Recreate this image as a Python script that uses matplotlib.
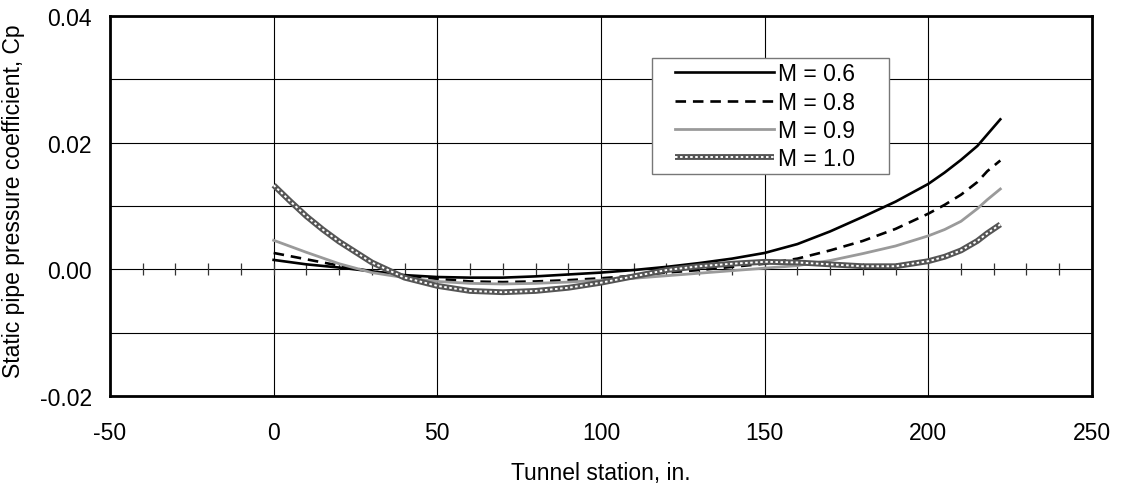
import matplotlib
matplotlib.use("Agg")
import matplotlib.pyplot as plt
import numpy as np
from matplotlib.patches import Rectangle
from matplotlib.legend_handler import HandlerTuple

plt.rcParams['font.family'] = ['Liberation Sans', 'DejaVu Sans']
plt.rcParams['axes.unicode_minus'] = False

# Data
x_main = [0, 10, 20, 30, 40, 50, 60, 70, 80, 90, 100, 110, 120, 130, 140,
          150, 160, 170, 180, 190, 200, 205, 210, 215, 218, 222]
cp_m06 = [0.0015, 0.0008, 0.0003, -0.0003, -0.0009, -0.0012, -0.0013, -0.0013,
          -0.0011, -0.0008, -0.0005, -0.0001, 0.0004, 0.0010, 0.0017, 0.0026,
          0.0040, 0.0060, 0.0083, 0.0107, 0.0135, 0.0153, 0.0173, 0.0195,
          0.0213, 0.0237]
cp_m08 = [0.0026, 0.0016, 0.0006, -0.0003, -0.0010, -0.0015, -0.0019, -0.0020,
          -0.0019, -0.0017, -0.0014, -0.0010, -0.0005, -0.0001, 0.0004, 0.0009,
          0.0017, 0.0030, 0.0045, 0.0064, 0.0088, 0.0102, 0.0118, 0.0138,
          0.0155, 0.0172]
cp_m09 = [0.0046, 0.0027, 0.0009, -0.0005, -0.0013, -0.0019, -0.0022, -0.0023,
          -0.0022, -0.0020, -0.0017, -0.0014, -0.0010, -0.0006, -0.0002, 0.0002,
          0.0006, 0.0014, 0.0025, 0.0037, 0.0053, 0.0063, 0.0076, 0.0096,
          0.0110, 0.0127]
x_m10 = [0, 5, 10, 15, 20, 30, 40, 50, 60, 70, 80, 90, 100, 110, 120, 130, 140,
         150, 160, 170, 180, 190, 200, 205, 210, 215, 218, 222]
cp_m10 = [0.0133, 0.0108, 0.0084, 0.0063, 0.0044, 0.0011, -0.0013, -0.0026,
          -0.0034, -0.0036, -0.0034, -0.0029, -0.0021, -0.0011, -0.0001, 0.0005,
          0.0009, 0.0012, 0.0011, 0.0008, 0.0005, 0.0005, 0.0013, 0.0020, 0.0030,
          0.0045, 0.0057, 0.0071]
labels = ["M = 0.6", "M = 0.8", "M = 0.9", "M = 1.0"]
x_ticks = [-50, 0, 50, 100, 150, 200, 250]
y_ticks = [-0.02, 0.00, 0.02, 0.04]
y_tick_labels = ["-0.02", "0.00", "0.02", "0.04"]
minor_x = list(range(-40, 250, 10))

fig = plt.figure(figsize=(11.21, 4.89), dpi=100)
ax = fig.add_axes([0.0981, 0.188, 0.876, 0.777])
ax.set_xlim(-50, 250)
ax.set_ylim(-0.02, 0.04)

# grid
for gx in x_ticks[1:-1]:
    ax.axvline(gx, color='black', lw=0.8, zorder=1)
for gy in np.arange(-0.01, 0.04, 0.01):
    ax.axhline(gy, color='black', lw=0.8, zorder=1)
ax.plot(minor_x, np.zeros(len(minor_x)), ls='none', marker='|', ms=9,
        mew=0.9, color='#333333', zorder=1)

l1, = ax.plot(x_main, cp_m06, color='black', lw=1.9, zorder=3)
l2, = ax.plot(x_main, cp_m08, color='black', lw=1.9, ls=(0, (4, 2.6)), zorder=3)
l3, = ax.plot(x_main, cp_m09, color='#9a9a9a', lw=2.0, zorder=3)
l4a, = ax.plot(x_m10, cp_m10, color='#555555', lw=4.2, zorder=4,
               solid_capstyle='butt')
l4b, = ax.plot(x_m10, cp_m10, color='white', lw=1.4, ls=(0, (1.3, 1.3)), zorder=5)

ax.set_xticks(x_ticks)
ax.set_yticks(y_ticks)
ax.set_yticklabels(y_tick_labels)
ax.tick_params(axis='both', length=0, labelsize=16.5)
ax.tick_params(axis='x', pad=18)
ax.tick_params(axis='y', pad=13)
for s in ax.spines.values():
    s.set_linewidth(2.0)
    s.set_zorder(6)

ax.set_xlabel("Tunnel station, in.", fontsize=16.5)
ax.xaxis.set_label_coords(0.5, -0.172)
ax.set_ylabel("Static pipe pressure coefficient, Cp", fontsize=16.5)
ax.yaxis.set_label_coords(-0.087, 0.515)

# legend frame
rect = Rectangle((0.552, 0.584), 0.241, 0.307, transform=ax.transAxes,
                 facecolor='white', edgecolor='#777777', lw=1.0, zorder=7)
ax.add_patch(rect)
leg = ax.legend([l1, l2, l3, (l4a, l4b)], labels, loc='center left',
                bbox_to_anchor=(0.5754, 0.737), frameon=False, fontsize=16.5,
                borderpad=0, borderaxespad=0, handlelength=4.3,
                handletextpad=0.2, labelspacing=0.22,
                handler_map={tuple: HandlerTuple(ndivide=1)})
leg.set_zorder(8)

fig.savefig("out.png", dpi=100)
